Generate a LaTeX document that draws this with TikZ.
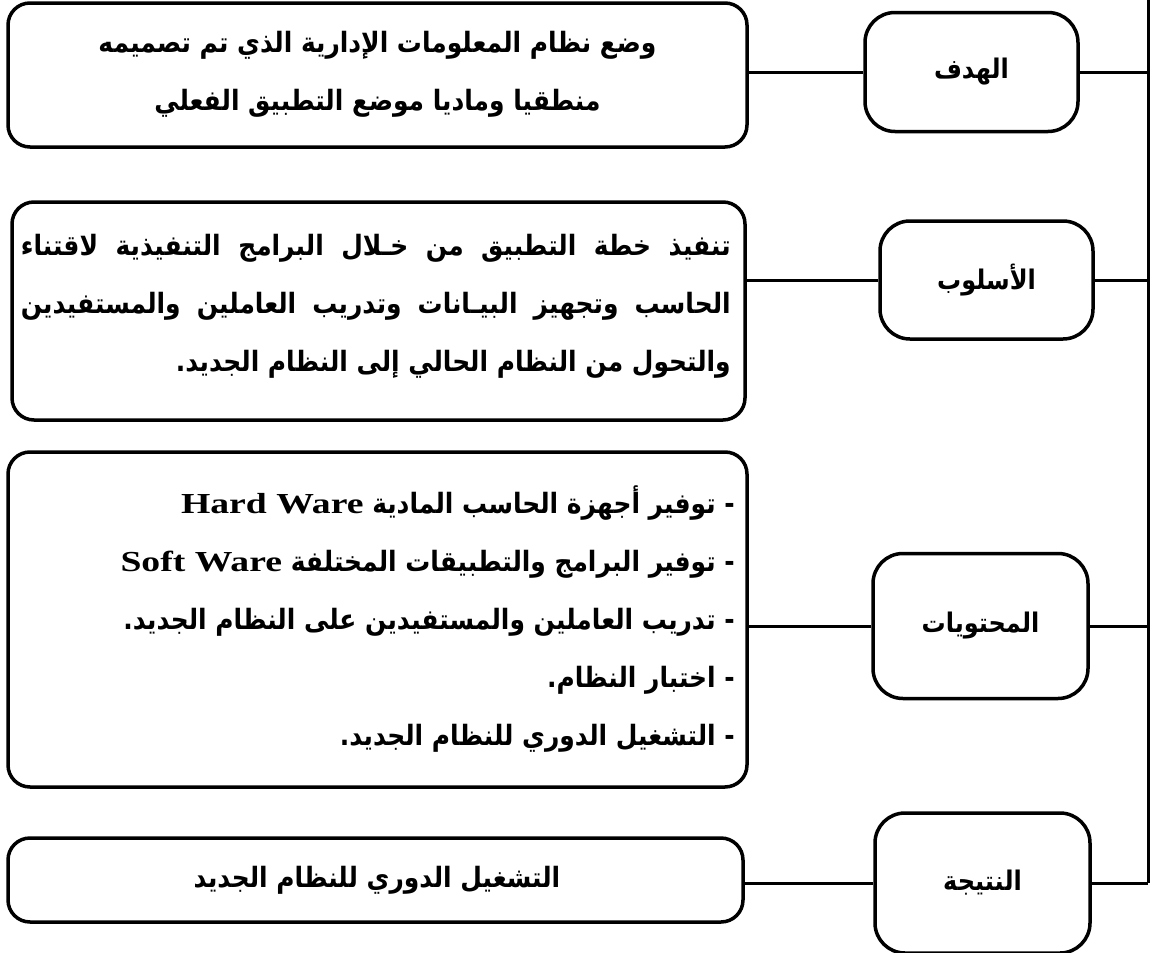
\documentclass[tikz,border=0pt]{standalone}
\usepackage{fontspec}
\TeXXeTstate=1
\newfontfamily\arabicfont[Script=Arabic, BoldFont=DejaVu Sans Bold, FakeStretch=0.89]{DejaVu Sans}
\newfontfamily\latinfont{Liberation Serif}
\newcommand{\AR}[1]{\beginR #1\endR}
\newcommand{\LT}[1]{\beginL\scalebox{1.3}[1]{\latinfont\bfseries\fontsize{29}{29}\selectfont #1}\endL{}}
\begin{document}
\begin{tikzpicture}[x=1pt,y=-1pt,
  bigbox/.style={draw, line width=3.5pt, rounded corners=22pt, inner sep=0pt, rectangle},
  lblbox/.style={draw, line width=3.5pt, rounded corners=30pt, inner sep=0pt, rectangle,
    font=\arabicfont\bfseries\fontsize{27}{34}\selectfont},
  bodytext/.style={inner sep=0pt, font=\arabicfont\bfseries\fontsize{28}{58}\selectfont},
  conn/.style={line width=3pt},
  vline/.style={line width=3pt}]
\useasboundingbox (0,0) rectangle (1152,953);
% large boxes
\node[bigbox, minimum width=739pt, minimum height=144pt] (b1) at (377.5,75) {};
\node[bigbox, minimum width=733pt, minimum height=218pt] (b2) at (378.5,311) {};
\node[bigbox, minimum width=739pt, minimum height=335pt] (b3) at (377.5,619.5) {};
\node[bigbox, minimum width=735pt, minimum height=84pt] (b4) at (375.5,880) {};
% label boxes
\node[lblbox, minimum width=213pt, minimum height=119pt] (l1) at (971.5,72) {\AR{الهدف}};
\node[lblbox, minimum width=213pt, minimum height=118pt] (l2) at (986.5,280) {\AR{الأسلوب}};
\node[lblbox, minimum width=215pt, minimum height=145pt] (l3) at (980.5,626) {\AR{المحتويات}};
\node[lblbox, minimum width=215pt, minimum height=140pt] (l4) at (982.5,883) {\AR{النتيجة}};
% texts
\node[bodytext, align=center] (t1) at (377.5,74) {\AR{وضع نظام المعلومات الإدارية الذي تم تصميمه}\\\AR{منطقيا وماديا موضع التطبيق الفعلي}};
\node[bodytext, align=right, anchor=east] (t2) at (731,306) {\hbox to 710pt{\AR{تنفيذ خطة التطبيق من خـلال البرامج التنفيذية لاقتناء}}\\\hbox to 710pt{\AR{الحاسب وتجهيز البيـانات وتدريب العاملين والمستفيدين}}\\\AR{والتحول من النظام الحالي إلى النظام الجديد.}};
\node[bodytext, align=right, anchor=east] (t3) at (735,619) {\AR{- توفير أجهزة الحاسب المادية \LT{Hard Ware}}\\\AR{- توفير البرامج والتطبيقات المختلفة \LT{Soft Ware}}\\\AR{- تدريب العاملين والمستفيدين على النظام الجديد.}\\\AR{- اختبار النظام.}\\\AR{- التشغيل الدوري للنظام الجديد.}};
\node[bodytext] (t4) at (377,880) {\AR{التشغيل الدوري للنظام الجديد}};
% right spine
\coordinate (vtop) at (1148,0);
\draw[vline] (vtop) -- (l4.east -| vtop);
% connectors
\foreach \i in {1,2,3,4}{
  \draw[conn] (l\i.west) -- (l\i.west -| b\i.east);
  \draw[conn] (l\i.east) -- (l\i.east -| vtop);
}
\end{tikzpicture}
\end{document}
